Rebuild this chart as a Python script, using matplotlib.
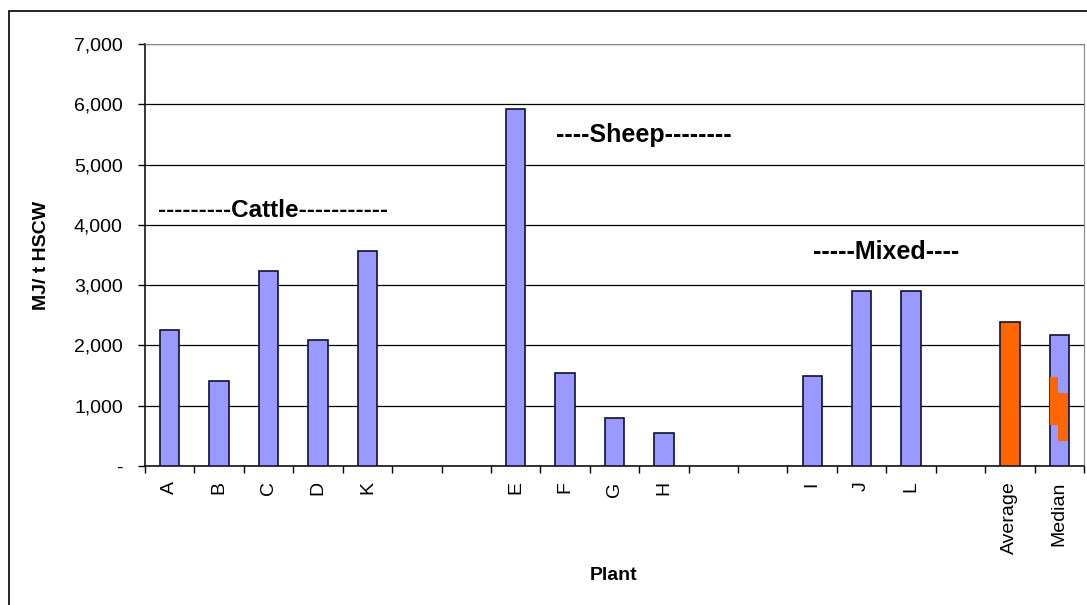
import numpy as np
import matplotlib.pyplot as plt
from matplotlib.ticker import FuncFormatter
from matplotlib.patches import Rectangle

plt.rcParams['font.family'] = ['Liberation Sans', 'DejaVu Sans']

# plants, with empty slots between the groups
plants = ['A', 'B', 'C', 'D', 'K', '', '', 'E', 'F', 'G', 'H', '', '',
          'I', 'J', 'L', '', 'Average', 'Median']
energy = [2255, 1415, 3230, 2095, 3565, np.nan, np.nan, 5920, 1542, 796, 555,
          np.nan, np.nan, 1493, 2910, 2910, np.nan, 2383, 2178]
bar_colors = ['#9999FF'] * 17 + ['#FF6600', '#9999FF']

# orange smudge drawn inside the Median bar (left half, right half)
smudge_low = [680, 415]
smudge_high = [1475, 1205]

groups = ['---------Cattle-----------', '----Sheep--------', '-----Mixed----']
group_x = [2.1, 9.6, 14.5]
group_y = [4230, 5490, 3550]

fig = plt.figure(figsize=(10.87, 6.05), dpi=100)
ax = fig.add_axes([145 / 1087, 1 - 466 / 605, (1084 - 145) / 1087, (466 - 44) / 605])

x = np.arange(len(plants))
w = 0.39
ax.bar(x, energy, width=w, color=bar_colors, edgecolor='#111133', linewidth=1.2, zorder=3)

# smudge in the Median bar, split into a left and a right strip
mx = x[-1]
ax.bar([mx - w / 2 + 0.01, mx - w / 2 + 0.165], np.subtract(smudge_high, smudge_low),
       bottom=smudge_low, width=[0.155, 0.205], align='edge',
       color='#FF6600', linewidth=0, zorder=4)

ax.set_xlim(-0.5, len(plants) - 0.5)
ax.set_ylim(0, 7000)
ax.set_yticks(np.arange(0, 7001, 1000))
ax.yaxis.set_major_formatter(FuncFormatter(lambda v, p: '-' if v == 0 else f'{int(v):,}'))
ax.grid(axis='y', color='black', linewidth=0.9, zorder=1)
ax.set_xticks(x)
ax.set_xticklabels(plants, rotation=90, fontsize=14)
ax.set_xticks(np.arange(-0.5, len(plants)), minor=True)
ax.tick_params(axis='x', which='major', length=0, pad=11)
ax.tick_params(axis='x', which='minor', length=5, width=1, direction='out')
ax.tick_params(axis='y', length=5, width=1, labelsize=14, pad=11)

for s in ['top', 'right']:
    ax.spines[s].set_color('#888888')
for s in ['left', 'bottom']:
    ax.spines[s].set_linewidth(1.1)

sizes = [17.5, 18, 18]
for label, gx, gy, fs in zip(groups, group_x, group_y, sizes):
    ax.text(gx, gy, label, ha='center', va='center', fontsize=fs, fontweight='bold', zorder=5)

fig.text(614 / 1087, 1 - 576 / 605, 'Plant', ha='center', va='center',
         fontsize=14, fontweight='bold')
fig.text(42 / 1087, 1 - 255 / 605, 'MJ/ t HSCW', ha='center', va='center',
         rotation=90, fontsize=14, fontweight='bold')

# outer chart border
fig.patches.append(Rectangle((9 / 1087, -0.01), 1.0, 1 - 11 / 605 + 0.01,
                             transform=fig.transFigure, fill=False,
                             edgecolor='black', linewidth=1.2))

fig.savefig('out.png', dpi=100)
